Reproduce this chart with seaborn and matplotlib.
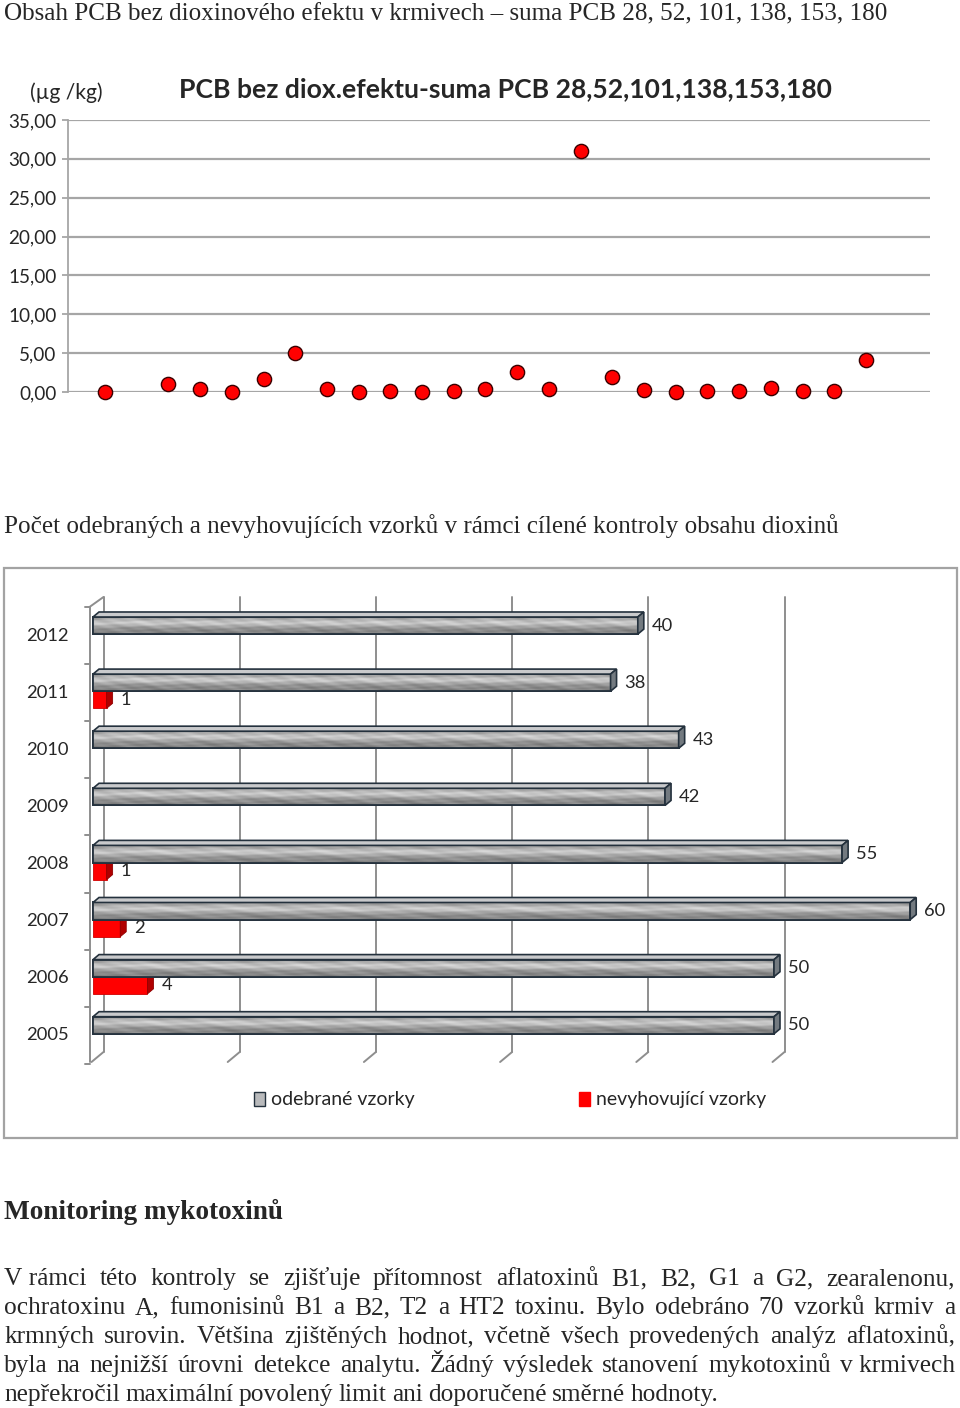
import numpy as np
import pandas as pd
import matplotlib
matplotlib.use("Agg")
import matplotlib.pyplot as plt
import seaborn as sns
from matplotlib.patches import Polygon, Rectangle, Patch

# ---------------- data ----------------
pcb_sample_no = list(range(1, 26))
pcb_values = [0.05, None, 1.00, 0.43, 0.04, 1.72, 5.07, 0.43, 0.04, 0.17, 0.04,
              0.13, 0.34, 2.62, 0.43, 31.04, 1.98, 0.21, 0.04, 0.13, 0.13, 0.47,
              0.09, 0.17, 4.16]
pcb_yticks = [0, 5, 10, 15, 20, 25, 30, 35]

years = ["2012", "2011", "2010", "2009", "2008", "2007", "2006", "2005"]
sampled = [40, 38, 43, 42, 55, 60, 50, 50]
noncompliant = [0, 1, 0, 0, 1, 2, 4, 0]
series_names = ["odebrané vzorky", "nevyhovující vzorky"]
bar_grid = [0, 10, 20, 30, 40, 50]

page_title = "Obsah PCB bez dioxinového efektu v krmivech – suma PCB 28, 52, 101, 138, 153, 180"
chart1_title = "PCB bez diox.efektu-suma PCB 28,52,101,138,153,180"
chart1_unit = "(µg /kg)"
section2_title = "Počet odebraných a nevyhovujících vzorků v rámci cílené kontroly obsahu dioxinů"
heading3 = "Monitoring mykotoxinů"
paragraph_lines = [
    "V\u00a0rámci této kontroly se zjišťuje přítomnost aflatoxinů B1, B2, G1 a G2, zearalenonu,",
    "ochratoxinu A, fumonisinů B1 a B2, T2 a HT2 toxinu. Bylo odebráno 70 vzorků krmiv a",
    "krmných surovin. Většina zjištěných hodnot, včetně všech provedených analýz aflatoxinů,",
    "byla na nejnižší úrovni detekce analytu. Žádný výsledek stanovení mykotoxinů v\u00a0krmivech",
    "nepřekročil maximální povolený limit ani doporučené směrné hodnoty.",
]

# ---------------- setup ----------------
sns.set_style("white")
SANS = ["Lato", "DejaVu Sans"]
SERIF = ["Liberation Serif", "DejaVu Serif"]
plt.rcParams["font.family"] = SANS

W, H = 960, 1408
fig = plt.figure(figsize=(W / 100, H / 100), dpi=100)


def px_rect(l, t, r, b):
    return [l / W, 1 - b / H, (r - l) / W, (b - t) / H]


def fx(x):
    return x / W


def fy(y):
    return 1 - y / H


# ---------------- page texts ----------------
fig.text(fx(4), fy(20), page_title, family=SERIF, fontsize=18.1, va="baseline", ha="left")
fig.text(fx(4), fy(533), section2_title, family=SERIF, fontsize=18.1, va="baseline", ha="left")
fig.text(fx(4), fy(1219), heading3, family=SERIF, fontsize=19.6, weight="bold", va="baseline", ha="left")

renderer = fig.canvas.get_renderer()
base_y = 1285
for i, line in enumerate(paragraph_lines):
    yb = base_y + i * 29
    words = line.split(" ")
    texts = [fig.text(0, fy(yb), w, family=SERIF, fontsize=18.3, va="baseline", ha="left")
             for w in words]
    widths = [t.get_window_extent(renderer).width for t in texts]
    if i < len(paragraph_lines) - 1:
        gap = (955 - 4 - sum(widths)) / (len(words) - 1)
    else:
        gap = 5.4
    x = 4
    for t, w in zip(texts, widths):
        t.set_x(fx(x))
        x += w + gap

# ---------------- chart 1: PCB scatter ----------------
ax1 = fig.add_axes(px_rect(68, 120, 930, 392))
df1 = pd.DataFrame({"sample": pcb_sample_no, "pcb": pcb_values}).dropna()
sns.scatterplot(data=df1, x="sample", y="pcb", ax=ax1, s=105, color="#ff0000",
                edgecolor="#3a0000", linewidth=1.0, zorder=3, clip_on=False, legend=False)
ax1.set_xlim(-0.167, 27.02)
ax1.set_ylim(0, 35)
ax1.set_yticks(pcb_yticks)
ax1.set_yticklabels([f"{v:.2f}".replace(".", ",") for v in pcb_yticks], fontsize=13.6)
ax1.set_xticks([])
ax1.set_xlabel("")
ax1.set_ylabel("")
ax1.yaxis.grid(True, color="#a6a6a6", lw=1.6)
ax1.set_axisbelow(True)
for s in ["top", "right", "bottom"]:
    ax1.spines[s].set_visible(False)
ax1.spines["left"].set_color("#a6a6a6")
ax1.spines["left"].set_linewidth(1.3)
ax1.spines["left"].set_bounds(0, 35)
ax1.tick_params(axis="y", length=4.5, width=1.3, color="#a6a6a6", pad=4, left=True)
fig.text(fx(505), fy(89), chart1_title, fontsize=19.1, weight="bold", ha="center", va="center")
fig.text(fx(66), fy(93), chart1_unit, fontsize=15.2, ha="center", va="center")

# ---------------- chart 2: 3D-like horizontal bars ----------------
fig.add_artist(Rectangle((fx(4), fy(1138)), 953 / W, 570 / H, transform=fig.transFigure,
                         fill=False, edgecolor="#a3a3a3", lw=1.6))

PX_PER_UNIT = 13.62
ZERO_PX = 93
BAND_PX = 57.1
TOP_VAL = -0.475
L_PX, R_PX, T_PX, B_PX = 80, 930, 607, 1064

ax2 = fig.add_axes(px_rect(L_PX, T_PX, R_PX, B_PX))
df2 = pd.DataFrame({
    "year": years * 2,
    "count": sampled + noncompliant,
    "series": [series_names[0]] * len(years) + [series_names[1]] * len(years),
})
GRAY = "#a7a8aa"
RED = "#ff0000"
EDGE = "#24313d"
sns.barplot(data=df2, y="year", x="count", hue="series", orient="h", order=years,
            hue_order=series_names, palette=[GRAY, RED], width=0.6, dodge=True,
            saturation=1, ax=ax2, legend=False, edgecolor=EDGE, linewidth=1.3)

xmin = (L_PX - ZERO_PX) / PX_PER_UNIT
xmax = (R_PX - ZERO_PX) / PX_PER_UNIT
ymax = TOP_VAL + (B_PX - T_PX) / BAND_PX
ax2.set_xlim(xmin, xmax)
ax2.set_ylim(ymax, TOP_VAL)
ax2.set_xticks([])
ax2.set_xlabel("")
ax2.set_ylabel("")
for s in ax2.spines.values():
    s.set_visible(False)
ax2.tick_params(axis="y", length=0, pad=8, labelsize=13.2)

# depth of bars
ddx = 6 / PX_PER_UNIT
ddy = 5 / BAND_PX

# texture for metallic bars (deterministic)
rows, cols = 24, 400
r = np.linspace(0, 1, rows)[:, None]
c = np.linspace(0, 1, cols)[None, :]
tex = (0.60 + 0.22 * np.exp(-((r - 0.38) / 0.22) ** 2)
       - 0.08 * r
       + 0.05 * np.sin(2 * np.pi * (c * 9 + r * 1.7)) * np.cos(2 * np.pi * r * 3.1)
       + 0.03 * np.sin(2 * np.pi * (c * 23 - r * 2.3)))
tex = np.clip(tex, 0, 1)

gray_cont, red_cont = ax2.containers[0], ax2.containers[1]

for bar in red_cont:
    x0, w, y0, h = bar.get_x(), bar.get_width(), bar.get_y(), bar.get_height()
    bar.set_edgecolor("#d00000")
    bar.set_linewidth(0.6)
    bar.set_zorder(2)
    if w <= 0:
        bar.set_visible(False)
        continue
    ax2.add_patch(Polygon([(x0 + w, y0), (x0 + w + ddx, y0 - ddy), (x0 + w + ddx, y0 + h - ddy),
                           (x0 + w, y0 + h)], closed=True, facecolor="#b00000",
                          edgecolor="#900000", lw=0.6, zorder=2))

for bar in gray_cont:
    x0, w, y0, h = bar.get_x(), bar.get_width(), bar.get_y(), bar.get_height()
    bar.set_zorder(3)
    im = ax2.imshow(tex, cmap="gray", vmin=0, vmax=1, extent=(x0, x0 + w, y0 + h, y0),
                    aspect="auto", interpolation="bilinear", zorder=3.1)
    im.set_clip_path(bar)
    ax2.add_patch(Rectangle((x0, y0), w, h, fill=False, edgecolor=EDGE, lw=1.3, zorder=3.2))
    ax2.add_patch(Polygon([(x0, y0), (x0 + w, y0), (x0 + w + ddx, y0 - ddy), (x0 + ddx, y0 - ddy)],
                          closed=True, facecolor="#c9cacc", edgecolor=EDGE, lw=1.2, zorder=3.3))
    ax2.add_patch(Polygon([(x0 + w, y0), (x0 + w + ddx, y0 - ddy), (x0 + w + ddx, y0 + h - ddy),
                           (x0 + w, y0 + h)], closed=True, facecolor="#737a80",
                          edgecolor=EDGE, lw=1.2, zorder=3.3))

ax2.set_xlim(xmin, xmax)
ax2.set_ylim(ymax, TOP_VAL)

# data labels
ax2.bar_label(gray_cont, labels=[str(v) for v in sampled], padding=10, fontsize=13.2, zorder=4)
ax2.bar_label(red_cont, labels=[str(v) if v > 0 else "" for v in noncompliant], padding=10,
              fontsize=13.2, zorder=4)

# walls / floor / gridlines
WALL = "#8e8e8e"
wdx = 10.5 / PX_PER_UNIT
wdy = 10 / BAND_PX
front_left = -3.5 / PX_PER_UNIT
y_top_f, y_bot_f = TOP_VAL, TOP_VAL + (1062 - T_PX) / BAND_PX
lk = dict(color=WALL, lw=1.4, clip_on=False, zorder=1)
ax2.plot([front_left, front_left], [y_top_f, y_bot_f], **lk)
ax2.plot([front_left, wdx], [y_top_f, y_top_f - wdy], **lk)
for v in bar_grid:
    ax2.plot([v + wdx, v + wdx], [y_top_f - wdy, y_bot_f - wdy], **lk)
    ax2.plot([v + wdx, v - 1.5 / PX_PER_UNIT], [y_bot_f - wdy, y_bot_f], **lk)
for k in range(len(years) + 1):
    yk = TOP_VAL + k
    ax2.plot([front_left - 4.5 / PX_PER_UNIT, front_left], [yk, yk], **lk)

# legend
handles = [Patch(facecolor="#b9babc", edgecolor=EDGE, lw=1.0), Patch(facecolor=RED, edgecolor=RED)]
fig.legend(handles, series_names, loc="center left", bbox_to_anchor=(fx(254), fy(1100)),
           ncol=2, frameon=False, fontsize=14, handlelength=0.55, handleheight=0.75,
           handletextpad=0.3, columnspacing=8.5, borderpad=0, borderaxespad=0)

fig.savefig("out.png", dpi=100)
